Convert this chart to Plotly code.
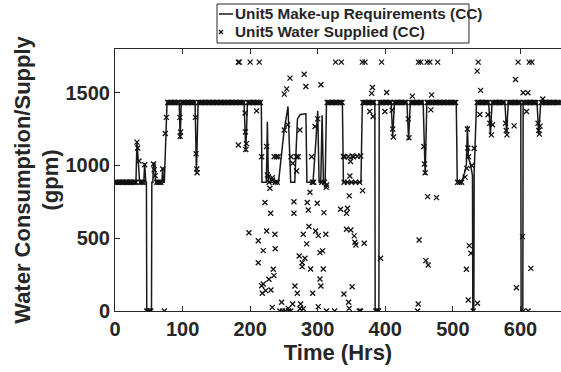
import plotly.graph_objects as go

# Unit5 make-up water requirement (gpm) at breakpoints in time (hours)
req_hours = [0, 31, 32.5, 34.5, 36.5, 42.5, 44, 45.5, 46.5, 47, 54, 54.5, 56, 57, 59, 60,
             69.5, 70.5, 71.5, 73, 75, 77, 95, 96.5, 98, 118.5, 120.5, 123, 191, 193.5, 196,
             216.5, 217.5, 224, 225.5, 227, 242, 250, 256, 260, 266, 270, 274, 282.5, 284,
             293, 297, 300, 302, 304.5, 306.5, 308.5, 311, 313, 336.5, 338, 364, 366,
             384.5, 385, 390.5, 391, 408.5, 411, 413.5, 432, 434.5, 437, 456, 459, 461.5,
             505, 506.5, 513, 518, 520, 521.5, 523, 526, 529, 529.5, 531, 531.5, 535,
             553, 555.5, 558, 577, 579.5, 582, 600.5, 601, 603.5, 604, 624.5, 627, 630, 660]
req_gpm = [885, 885, 1165, 1030, 885, 885, 1015, 885, 885, 0, 0, 885, 885, 1015, 1015, 885,
           885, 985, 885, 885, 1220, 1432, 1432, 1180, 1432, 1432, 950, 1432, 1432, 1095, 1432,
           1432, 885, 885, 1300, 885, 885, 1230, 1405, 885, 885, 1320, 1350, 1355, 885,
           885, 1150, 1375, 885, 885, 1345, 885, 885, 1432, 1432, 885, 885, 1432,
           1432, 0, 0, 1432, 1432, 1200, 1432, 1432, 1175, 1432, 1432, 935, 1432,
           1432, 885, 885, 960, 1010, 1275, 1050, 1010, 930, 0, 0, 950, 1432,
           1432, 1210, 1432, 1432, 1220, 1432, 1432, 0, 0, 1432, 1432, 1215, 1432, 1432]

# Hours where the supplied water sat on the upper (1432 gpm) and lower (885 gpm) levels
HIGH_LEVEL = 1432
LOW_LEVEL = 885
sup_high_hours = [78, 80, 82, 84, 86, 88, 90, 92, 94,
                  99, 101, 103, 105, 107, 109, 111, 113, 115, 117,
                  124, 126, 128, 130, 132, 134, 136, 138, 140, 142, 144, 146, 148, 150, 152,
                  154, 156, 158, 160, 162, 164, 166, 168, 170, 172, 174, 176, 178, 180, 182,
                  184, 186, 188, 190,
                  197, 199, 201, 203, 205, 207, 209, 211, 213, 215,
                  314, 316, 318, 320, 322, 324, 326, 328, 330, 332, 334, 336,
                  367, 369, 371, 373, 375, 377, 379, 381, 383,
                  392, 394, 396, 398, 400, 402, 404, 406, 408,
                  414, 416, 418, 420, 422, 424, 426, 428, 430,
                  438, 440, 442, 444, 446, 448, 450, 452, 454,
                  462, 464, 466, 468, 470, 472, 474, 476, 478, 480, 482, 484, 486, 488, 490,
                  492, 494, 496, 498, 500, 502, 504,
                  536, 538, 540, 542, 544, 546, 548, 550, 552,
                  559, 561, 563, 565, 567, 569, 571, 573, 575,
                  583, 585, 587, 589, 591, 593, 595, 597, 599,
                  605, 607, 609, 611, 613, 615, 617, 619, 621, 623,
                  631, 633, 635, 637, 639, 641, 643, 645, 647, 649, 651, 653, 655, 657]
sup_low_hours = [1, 3, 5, 7, 9, 11, 13, 15, 17, 19, 21, 23, 25, 27, 29, 31, 38, 40, 42,
                 62, 64, 66, 68, 228, 237, 240, 294, 306, 310,
                 339, 344, 350, 356, 362, 507, 510, 513]

# Remaining supplied-water readings (hours, gpm)
sup_hours = [32.5, 33.5, 35.5, 44, 47, 49, 51, 53, 57, 58, 59.5, 70.5, 73, 74.5, 76,
             96, 96.5, 97, 119, 120, 121, 121.5, 182.5, 182.5, 192.5, 193, 193.5, 194.5,
             184, 200, 213.5, 209.6,
             217, 235.5, 239, 241.5, 260.5, 268.5, 271, 291, 338, 340, 345, 351, 353,
             358.5, 363.5, 348.5,
             250.5, 254, 259, 280, 282.5, 304.7,
             224.4, 225.5, 232.8, 226.8, 233, 250.5, 255.5, 263, 268.7, 273.7, 296, 300,
             292, 312.5, 313,
             326.5, 335, 366, 370,
             229.3, 221.9, 230.3, 198.2, 224.4, 236.7, 212, 219.4, 237.1, 212, 234.2,
             235.2, 227.8, 217, 219.4, 223, 218, 230.8, 246.6, 232.7, 262.9, 244, 248,
             252, 257, 260, 256.4, 273.7, 278.6, 264.8, 264.8, 284.5, 299.3, 286, 288.5,
             309.2, 287, 278.6, 296.9, 300.8, 312, 283.6, 272.6, 281, 277, 277, 289.5,
             308.2, 303.3, 307.2, 303.3, 304.7, 266.3, 269.7, 292.5, 274.7, 300.8, 313,
             325, 346.6, 366.4, 333.8, 342.6, 344, 342.6, 349, 354, 355, 356.5, 368.8,
             351, 338.8, 345.7, 346.6, 361.4, 363.5, 347.6,
             379.7, 381, 377, 382, 386, 388, 390, 393, 394.5, 399.4, 402,
             410, 411, 412, 434, 435, 440,
             447.8, 448.7, 449, 450, 452.5,
             457, 458, 459, 460, 462, 462.6, 463.5, 466, 467.5, 468.5, 475.8, 477.5,
             518, 520, 520.5, 521.5, 522, 522.7, 523, 524.3, 526.7, 528, 530, 531.5,
             536, 536.5, 537.5, 540, 541,
             552, 554.7, 557, 558.7, 578, 579, 580, 590.7,
             592.7, 594, 596.5, 603, 604, 604, 609, 611, 611.4, 613, 615.4, 617,
             626, 627, 628, 629, 633]
sup_gpm = [1160, 1120, 1030, 1005, 0, 0, 0, 0, 1010, 970, 930, 975, 0, 1220, 1330,
           1330, 1200, 1230, 1330, 1080, 975, 950, 1710, 1140, 1360, 1230, 1110, 1150,
           1710, 1710, 1710, 1375,
           1060, 1060, 1060, 1060, 1060, 1060, 1060, 1060, 1062, 1060, 1060, 1065, 1060,
           1063, 1065, 1027,
           1490, 1526, 1600, 1627, 1542, 1554,
           1130, 935, 916, 923, 900, 1244, 1279, 1015, 962, 1244, 1267, 1320,
           885, 850, 866,
           1710, 1710, 1710, 1710,
           843, 745, 672, 538, 550, 527, 483, 415, 428, 332, 287,
           243, 218, 174, 186, 140, 122, 144, 60, 25, 48, 0, 0,
           0, 0, 0, 18, 16, 16, 751, 672, 745, 740, 694, 816,
           676, 580, 527, 550, 518, 527, 461, 378, 362, 332, 305, 289,
           289, 401, 413, 220, 172, 172, 122, 122, 48, 30, 0,
           0, 791, 827, 699, 672, 706, 562, 557, 516, 472, 454, 465,
           167, 117, 60, 18, 0, 0, 928,
           1495, 1535, 1371, 1336, 0, 0, 0, 362, 1710, 1371, 1501,
           1380, 1250, 1195, 1320, 1190, 1476,
           0, 48, 1710, 488, 1710,
           1130, 1010, 950, 346, 1710, 786, 316, 1710, 1382, 1485, 779, 1710,
           920, 287, 980, 1250, 1120, 76, 1060, 449, 397, 1000, 0, 1118,
           1648, 53, 1710, 1350, 1516,
           1348, 1290, 1210, 1279, 1290, 1240, 1210, 1272,
           1590, 160, 1710, 511, 0, 1500, 1371, 1500, 0, 1710, 293, 1710,
           1290, 1240, 1215, 1270, 1456]

all_sup_hours = sup_high_hours + sup_low_hours + sup_hours
all_sup_gpm = [HIGH_LEVEL] * len(sup_high_hours) + [LOW_LEVEL] * len(sup_low_hours) + sup_gpm

legend_labels = ["Unit5 Make-up Requirements (CC)", "Unit5 Water Supplied (CC)"]

INK = "#262626"
FONT = "Arial, Liberation Sans, Helvetica, sans-serif"
LINE_COLOR = "#1a1a1a"
MARK_COLOR = "#111111"

fig = go.Figure()
fig.add_trace(go.Scatter(
    x=req_hours, y=req_gpm, mode="lines", name=legend_labels[0],
    line=dict(color=LINE_COLOR, width=1.5), showlegend=False,
))
fig.add_trace(go.Scatter(
    x=all_sup_hours, y=all_sup_gpm, mode="markers", name=legend_labels[1],
    marker=dict(symbol="x-thin", size=5, color=MARK_COLOR,
                line=dict(color=MARK_COLOR, width=1.3)),
    showlegend=False,
))

# Boxed legend above the axes (paper coordinates)
box_x0, box_x1, box_y0, box_y1 = 0.2287, 0.7937, 1.0229, 1.1718
row_y = [1.1336, 1.0649]
sample_x = 0.2377
text_x = 0.2645
shapes = [
    dict(type="rect", xref="paper", yref="paper", x0=box_x0, x1=box_x1, y0=box_y0, y1=box_y1,
         line=dict(color=INK, width=1), fillcolor="white", layer="above"),
    dict(type="line", xref="paper", yref="paper", x0=0.2332, x1=0.2645, y0=row_y[0], y1=row_y[0],
         line=dict(color=LINE_COLOR, width=1.5), layer="above"),
    dict(type="line", xref="paper", yref="paper", x0=sample_x - 0.0045, x1=sample_x + 0.0045,
         y0=row_y[1] - 0.0076, y1=row_y[1] + 0.0076, line=dict(color=MARK_COLOR, width=1.3), layer="above"),
    dict(type="line", xref="paper", yref="paper", x0=sample_x - 0.0045, x1=sample_x + 0.0045,
         y0=row_y[1] + 0.0076, y1=row_y[1] - 0.0076, line=dict(color=MARK_COLOR, width=1.3), layer="above"),
]
annotations = [
    dict(text=label, xref="paper", yref="paper", x=text_x, y=y, xanchor="left", yanchor="middle",
         showarrow=False, font=dict(size=15.3, weight="bold", color=INK, family=FONT))
    for label, y in zip(legend_labels, row_y)
]

fig.update_layout(
    width=561, height=372,
    margin=dict(l=115, r=0, t=49, b=61),
    paper_bgcolor="white", plot_bgcolor="white",
    font=dict(family=FONT, color=INK),
    showlegend=False,
    shapes=shapes, annotations=annotations,
)
fig.update_xaxes(
    range=[0, 660], tickvals=[0, 100, 200, 300, 400, 500, 600],
    showgrid=False, zeroline=False,
    showline=True, linecolor=INK, linewidth=1, mirror="ticks",
    ticks="inside", ticklen=5, tickcolor=INK,
    tickfont=dict(size=20, weight="bold", color=INK, family=FONT),
    title=dict(text="Time (Hrs)", standoff=4,
               font=dict(size=22, weight="bold", color=INK, family=FONT)),
)
fig.update_yaxes(
    range=[0, 1800], tickvals=[0, 500, 1000, 1500],
    showgrid=False, zeroline=False,
    showline=True, linecolor=INK, linewidth=1, mirror=False,
    ticks="inside", ticklen=5, tickcolor=INK,
    tickfont=dict(size=20, weight="bold", color=INK, family=FONT),
    title=dict(text="Water Consumption/Supply<br>(gpm)", standoff=0,
               font=dict(size=22, weight="bold", color=INK, family=FONT)),
)

fig.write_html("out.html")
